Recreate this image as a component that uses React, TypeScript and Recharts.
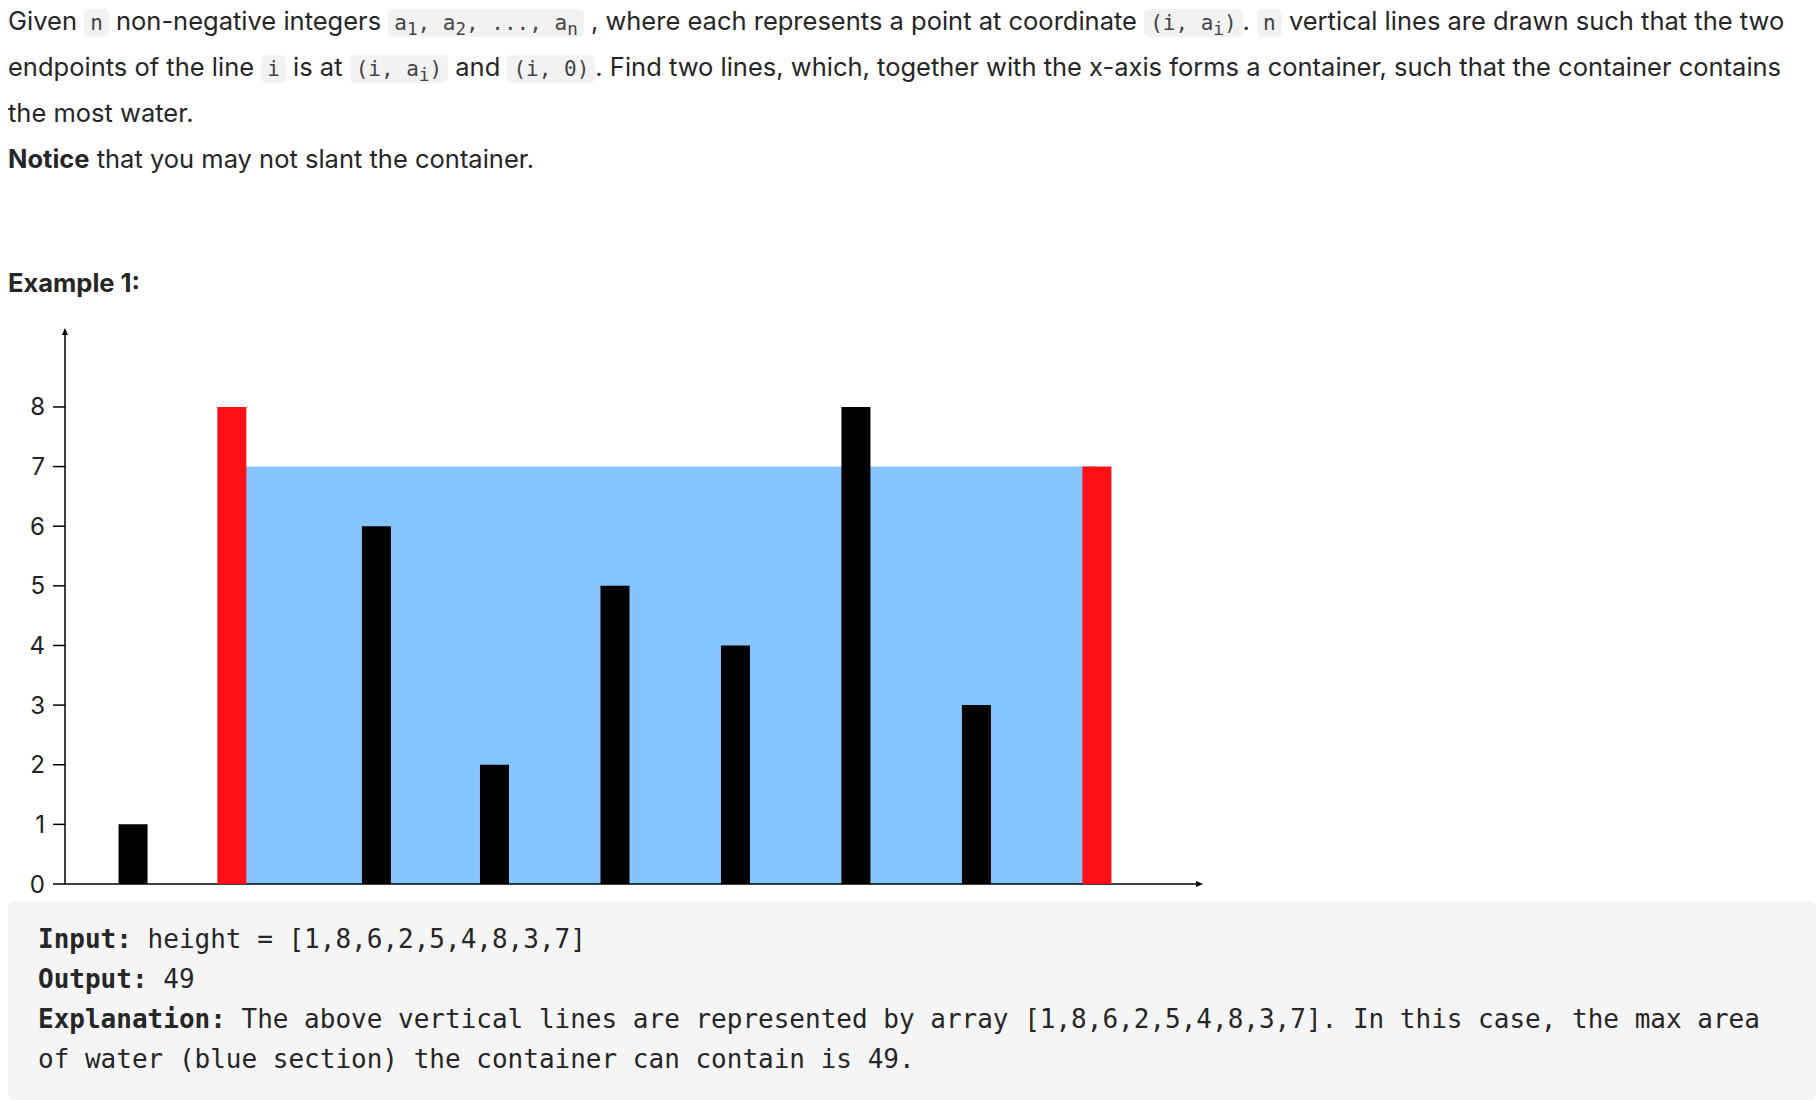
import React from "react";
import { ComposedChart, Bar, Cell, XAxis, YAxis, ReferenceArea, usePlotArea } from "recharts";

const positions = [1, 1.82, 3.02, 4, 5, 6, 7, 8, 9];
const heights = [1, 8, 6, 2, 5, 4, 8, 3, 7];
const highlighted = [1, 8];
const yTicks = [0, 1, 2, 3, 4, 5, 6, 7, 8];
const waterLevel = 7;

const data = positions.map((x, i) => ({ x, h: heights[i], i }));

const code: React.CSSProperties = {
  fontFamily: "'DejaVu Sans Mono', monospace",
  fontSize: 21,
  background: "#f2f2f2",
  borderRadius: 5,
  padding: "2px 6px",
  color: "#444",
};

function Arrows() {
  const p = usePlotArea();
  if (!p) return null;
  const { x, y, width, height } = p;
  return (
    <g>
      <polygon points={`${x},${y - 5} ${x - 3},${y + 2} ${x + 3},${y + 2}`} fill="#000" />
      <polygon points={`${x + width + 5},${y + height} ${x + width - 2},${y + height - 3} ${x + width - 2},${y + height + 3}`} fill="#000" />
    </g>
  );
}

export default function App() {
  return (
    <div style={{ position: "absolute", left: 0, top: 0, width: 1818, height: 1100, background: "#fff", fontFamily: "Inter, 'Noto Sans', sans-serif", color: "#262626", overflow: "hidden" }}>
      <div style={{ position: "absolute", left: 8, top: 2, width: 1790, fontSize: 25.5, lineHeight: "38px" }}>
        Given <span style={code}>n</span> non-negative integers <span style={code}>a<sub>1</sub>, a<sub>2</sub>, ..., a<sub>n</sub></span> , where each represents a point at coordinate <span style={code}>(i, a<sub>i</sub>)</span>. <span style={code}>n</span> vertical lines are drawn such that the two endpoints of the line <span style={code}>i</span> is at <span style={code}>(i, a<sub>i</sub>)</span> and <span style={code}>(i, 0)</span>. Find two lines, which, together with the x-axis forms a container, such that the container contains the most water.
      </div>
      <div style={{ position: "absolute", left: 8, top: 140, fontSize: 25.5, lineHeight: "38px" }}>
        <b>Notice</b> that you may not slant the container.
      </div>
      <div style={{ position: "absolute", left: 8, top: 264, fontSize: 25.5, lineHeight: "38px", fontWeight: 700 }}>Example 1:</div>
      <div style={{ position: "absolute", left: 0, top: 300 }}>
        <ComposedChart width={1230} height={600} data={data} margin={{ top: 33, right: 32, left: 10, bottom: 16 }}>
          <XAxis dataKey="x" type="number" domain={[0.436, 9.84]} hide />
          <YAxis type="number" domain={[0, 9.24]} ticks={yTicks} width={55} axisLine={{ stroke: "#000", strokeWidth: 1.5 }} tickLine={{ stroke: "#000", strokeWidth: 1.5 }} tickSize={12} tickMargin={8} tick={{ fill: "#222", fontSize: 24, fontFamily: "Inter, sans-serif" }} />
          <ReferenceArea x1={positions[1]} x2={positions[8]} y1={0} y2={waterLevel} fill="#85c4fc" fillOpacity={1} stroke="none" ifOverflow="visible" />
          <Bar dataKey="h" barSize={29} isAnimationActive={false}>
            {data.map((d) => (
              <Cell key={d.i} fill={highlighted.includes(d.i) ? "#ff1016" : "#000"} />
            ))}
          </Bar>
          <ReferenceArea x1={0.436} x2={9.84} y1={0} y2={0.0001} stroke="#000" strokeWidth={1.5} fill="none" ifOverflow="visible" />
          <Arrows />
        </ComposedChart>
      </div>
      <div style={{ position: "absolute", left: 8, top: 901, width: 1808, height: 199, background: "#f5f5f5", borderRadius: 6 }}>
        <div style={{ position: "absolute", left: 30, top: 18, fontFamily: "'DejaVu Sans Mono', monospace", fontSize: 26, lineHeight: "40px", color: "#262626", whiteSpace: "pre" }}>
          <div><b>Input:</b> height = [1,8,6,2,5,4,8,3,7]</div>
          <div><b>Output:</b> 49</div>
          <div><b>Explanation:</b> The above vertical lines are represented by array [1,8,6,2,5,4,8,3,7]. In this case, the max area</div>
          <div>of water (blue section) the container can contain is 49.</div>
        </div>
      </div>
    </div>
  );
}
